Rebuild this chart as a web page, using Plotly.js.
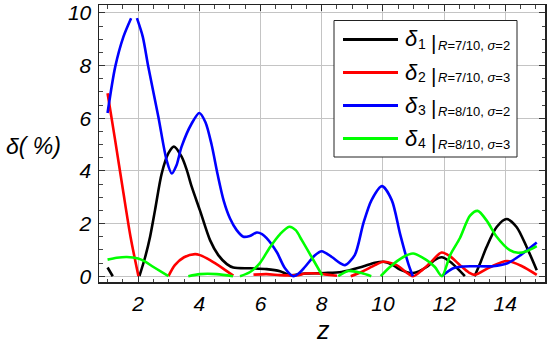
<!DOCTYPE html>
<html>
<head>
<meta charset="utf-8">
<script src="https://cdn.plot.ly/plotly-3.0.1.min.js"></script>
<style>html,body{margin:0;padding:0;background:#fff;}#chart{width:550px;height:343px;}</style>
</head>
<body>
<div id="chart"></div>
<script>
// ---- data ----
const d1X = [1.0, 1.17, null, 2.04, 2.23, 2.39, 2.55, 2.77, 2.99, 3.17, 3.42, 3.59, 3.75, 4.02, 4.35, 4.62, 4.9, 5.11, 5.66, 6.2, 6.64, 6.96, 7.45, 8.1, 8.65, 9.3, 9.74, 10.01, 10.29, 10.56, 10.99, 11.43, 11.7, 11.92, 12.2, 12.5, 12.68, null, 13.0, 13.2, 13.39, 13.72, 14.05, 14.37, 14.7, 15.03];
const d1Y = [0.33, 0.0, null, 0.0, 0.73, 1.5, 2.5, 3.9, 4.67, 4.92, 4.54, 4.03, 3.4, 2.5, 1.37, 0.8, 0.46, 0.33, 0.3, 0.27, 0.19, 0.04, 0.1, 0.12, 0.16, 0.35, 0.51, 0.55, 0.45, 0.25, 0.12, 0.35, 0.62, 0.72, 0.55, 0.22, 0.0, null, 0.0, 0.55, 1.11, 1.87, 2.17, 1.87, 1.11, 0.23];

const d2X = [1.0, 1.25, 1.5, 1.75, 2.01, null, 2.99, 3.2, 3.5, 3.86, 4.02, 4.35, 4.78, 5.11, null, 5.77, 6.2, 6.64, 6.96, 7.24, 7.45, 7.89, 8.1, 8.5, null, 8.95, 9.3, 9.74, 10.01, 10.45, 10.99, 11.3, 11.54, 11.92, 12.2, 12.52, 12.8, 13.0, 13.5, 14.05, 14.55, 15.03];
const d2Y = [6.95, 5.15, 3.3, 1.5, 0.0, null, 0.0, 0.42, 0.72, 0.84, 0.8, 0.61, 0.29, 0.02, null, 0.06, 0.08, 0.04, 0.03, 0.04, 0.1, 0.1, 0.07, 0.02, null, 0.0, 0.16, 0.42, 0.55, 0.42, 0.0, 0.25, 0.5, 0.9, 0.75, 0.42, 0.15, 0.05, 0.34, 0.58, 0.38, 0.05];

const d3X = [1.0, 1.25, 1.52, 1.77, null, 1.96, 2.15, 2.33, 2.66, 2.93, 3.1, 3.25, 3.42, 3.75, 4.0, 4.2, 4.4, 4.6, 4.8, 5.0, 5.22, 5.44, 5.65, 5.88, 6.05, 6.2, 6.53, 6.8, 7.07, 7.29, 7.45, 7.78, 8.0, 8.33, 8.6, 8.76, 9.08, 9.36, 9.63, 9.97, 10.29, 10.56, 10.83, 10.98, null, 11.92, 12.3, 12.6, 12.95, 13.6, 14.05, 14.5, 15.03];
const d3Y = [6.2, 7.95, 9.1, 9.8, null, 9.8, 9.1, 7.96, 6.06, 4.41, 3.9, 4.2, 4.92, 5.8, 6.2, 5.85, 5.0, 3.85, 2.85, 2.2, 1.75, 1.5, 1.53, 1.66, 1.6, 1.45, 0.92, 0.3, 0.0, 0.15, 0.35, 0.8, 0.95, 0.73, 0.5, 0.42, 0.8, 2.0, 2.89, 3.42, 2.89, 1.62, 0.48, 0.0, null, 0.0, 0.3, 0.37, 0.38, 0.38, 0.48, 0.8, 1.28];

const d4X = [1.0, 1.3, 1.63, 2.0, 2.23, 2.5, 2.99, null, 3.64, 4.02, 4.57, 5.1, null, 5.33, 5.66, 5.98, 6.31, 6.64, 6.94, 7.15, 7.35, 7.67, 8.02, null, 8.54, 8.87, 9.3, 9.62, null, 9.93, 10.23, 10.67, 10.99, 11.43, 11.7, 11.93, 12.2, 12.52, 12.85, 13.1, 13.4, 13.72, 14.15, 14.42, 14.7, 15.03];
const d4Y = [0.63, 0.7, 0.73, 0.67, 0.55, 0.35, 0.0, null, 0.0, 0.08, 0.08, 0.0, null, 0.0, 0.16, 0.5, 1.1, 1.6, 1.88, 1.75, 1.37, 0.73, 0.02, null, 0.0, 0.2, 0.12, 0.0, null, 0.0, 0.35, 0.73, 0.86, 0.61, 0.35, 0.0, 0.8, 1.45, 2.3, 2.48, 2.1, 1.5, 0.99, 0.89, 0.95, 1.14];

const seriesNames = ["δ₁", "δ₂", "δ₃", "δ₄"];
const legendSubs = ["1", "2", "3", "4"];
const legendParams = [
  ["7/10", "2"],
  ["7/10", "3"],
  ["8/10", "2"],
  ["8/10", "3"]
];
const seriesColors = ["#000000", "#ff0000", "#0000ff", "#00ff00"];
const xTicks = [2, 4, 6, 8, 10, 12, 14];
const yTicks = [0, 2, 4, 6, 8, 10];

// ---- layout helpers (pixel -> paper) ----
const W = 550, H = 343;
const M = {l: 99, r: 5, t: 5, b: 61};
const PW = W - M.l - M.r, PH = H - M.t - M.b;
const px = v => (v - M.l) / PW;
const py = v => (H - M.b - v) / PH;

const FONT = "Liberation Sans, Arial, sans-serif";
const xs = [d1X, d2X, d3X, d4X], ys = [d1Y, d2Y, d3Y, d4Y];
const traces = xs.map((x, i) => ({
  x: x, y: ys[i], type: "scatter", mode: "lines", name: seriesNames[i],
  connectgaps: false,
  line: {color: seriesColors[i], width: 2.6, shape: "spline", smoothing: 0.8},
  hoverinfo: "skip", showlegend: false
}));

const shapes = [{
  type: "rect", xref: "paper", yref: "paper",
  x0: px(334), x1: px(517), y0: py(157), y1: py(20.5),
  line: {color: "#222", width: 1}, fillcolor: "#ffffff", layer: "above"
}];
const annotations = [];
const rowY = [39.5, 72.5, 105.5, 138.5];
rowY.forEach((ry, i) => {
  shapes.push({type: "line", xref: "paper", yref: "paper", x0: px(343), x1: px(398), y0: py(ry), y1: py(ry),
    line: {color: seriesColors[i], width: 3}, layer: "above"});
  annotations.push({xref: "paper", yref: "paper", x: px(403), y: py(ry - 0.5), xanchor: "left", yanchor: "middle",
    text: "δ", showarrow: false, font: {family: FONT, size: 22, color: "#000", style: "italic"}});
  annotations.push({xref: "paper", yref: "paper", x: px(415.5), y: py(ry + 4.5), xanchor: "left", yanchor: "middle",
    text: legendSubs[i], showarrow: false, font: {family: FONT, size: 14, color: "#000"}});
  annotations.push({xref: "paper", yref: "paper", x: px(428.5), y: py(ry + 2.5), xanchor: "left", yanchor: "middle",
    text: "|", showarrow: false, font: {family: FONT, size: 21, color: "#000"}});
  annotations.push({xref: "paper", yref: "paper", x: px(436), y: py(ry + 5.5), xanchor: "left", yanchor: "middle",
    text: "<i>R</i>=" + legendParams[i][0] + ", <i>σ</i>=" + legendParams[i][1], showarrow: false,
    font: {family: FONT, size: 13, color: "#000"}});
});
annotations.push({xref: "paper", yref: "paper", x: px(33), y: py(146), xanchor: "center", yanchor: "middle",
  text: "δ( %)", showarrow: false, font: {family: FONT, size: 23, color: "#000", style: "italic"}});
annotations.push({xref: "paper", yref: "paper", x: px(323), y: py(330), xanchor: "center", yanchor: "middle",
  text: "z", showarrow: false, font: {family: FONT, size: 25, color: "#000", style: "italic"}});

const axisCommon = {
  showline: true, linecolor: "#222", linewidth: 1.5, mirror: "ticks",
  ticks: "inside", ticklen: 6, tickwidth: 1, tickcolor: "#333",
  showgrid: true, gridcolor: "#c4c4c4", gridwidth: 1, zeroline: false,
  tickfont: {family: FONT, size: 21, color: "#000", style: "italic"},
  minor: {dtick: 0.5, ticks: "inside", ticklen: 3.5, tickcolor: "#444", showgrid: false}
};
const layout = {
  width: W, height: H, margin: M,
  paper_bgcolor: "#fff", plot_bgcolor: "#fff",
  xaxis: Object.assign({}, axisCommon, {range: [0.72, 15.3], tickvals: xTicks, ticktext: xTicks.map(String), ticklabelstandoff: 2}),
  yaxis: Object.assign({}, axisCommon, {range: [-0.22, 10.3], tickvals: yTicks, ticktext: yTicks.map(String), ticklabelstandoff: 2}),
  shapes: shapes, annotations: annotations, showlegend: false
};
Plotly.newPlot("chart", traces, layout, {staticPlot: true, displayModeBar: false});
</script>
</body>
</html>
